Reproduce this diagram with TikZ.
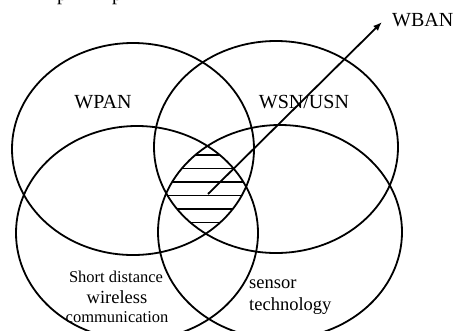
\documentclass[tikz,border=0pt]{standalone}
\usepackage{fontspec}
\setmainfont{Liberation Serif}
\usetikzlibrary{arrows.meta}
\begin{document}
\begin{tikzpicture}[x=1pt,y=-1pt,
  set/.style={line width=1.8pt},
  hatch/.style={line width=1.8pt},
  lbl/.style={inner sep=0pt, font=\fontsize{20}{22}\selectfont},
  small/.style={inner sep=0pt, align=center}]
\useasboundingbox (0,0) rectangle (455,330);
\begin{scope}
\clip (0,0) rectangle (455,330);
% fragments of text cut off at the top
\node[anchor=base west, inner sep=0pt, font=\fontsize{20}{22}\selectfont] (fragA) at (57,0) {p};
\node[anchor=base west, inner sep=0pt, font=\fontsize{20}{22}\selectfont] (fragB) at (112,0) {p};
% ellipse centres
\coordinate (tl) at (133,149);
\coordinate (tr) at (276,147);
\coordinate (bl) at (137,233);
\coordinate (br) at (280,232);
% hatching of the common region
\begin{scope}
\clip (tl) ellipse [x radius=121pt, y radius=106pt];
\clip (tr) ellipse [x radius=122pt, y radius=106pt];
\clip (bl) ellipse [x radius=121pt, y radius=107pt];
\clip (br) ellipse [x radius=122pt, y radius=107pt];
\foreach \yy in {155,168.5,182,195.5,209,222.5} {
  \draw[hatch] (140,\yy) -- (270,\yy);
}
\end{scope}
\draw[set] (tl) ellipse [x radius=121pt, y radius=106pt];
\draw[set] (tr) ellipse [x radius=122pt, y radius=106pt];
\draw[set] (bl) ellipse [x radius=121pt, y radius=107pt];
\draw[set] (br) ellipse [x radius=122pt, y radius=107pt];
% labels
\node[lbl] (wpan) at (103,102) {WPAN};
\node[lbl] (wsn) at (304,102) {WSN/USN};
\node[lbl, anchor=west] (wban) at (392,20) {WBAN};
\node[small, font=\fontsize{16.5}{20}\selectfont] (sd) at (116,277) {Short distance};
\node[small, font=\fontsize{18.5}{20}\selectfont] (wl) at (117,297) {wireless};
\node[small, font=\fontsize{16.5}{20}\selectfont] (cm) at (117,317) {communication};
\node[small, font=\fontsize{18.5}{20}\selectfont, anchor=west] (se) at (249,284) {sensor};
\node[small, font=\fontsize{18.5}{20}\selectfont, anchor=west] (te) at (249,306) {technology};
% arrow
\coordinate (start) at (208,194);
\coordinate (tip) at (382,22);
\draw[set, -{Latex[length=9pt,width=7pt]}] (start) -- (tip);
\end{scope}
\end{tikzpicture}
\end{document}
